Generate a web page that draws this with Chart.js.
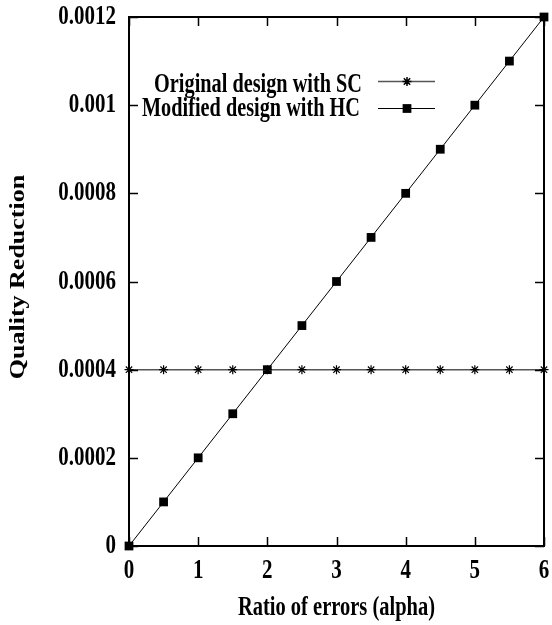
<!DOCTYPE html>
<html>
<head>
<meta charset="utf-8">
<script src="https://cdn.jsdelivr.net/npm/chart.js@4"></script>
<style>
  html, body { margin: 0; padding: 0; background: #fff; }
  #wrap { width: 552px; height: 625px; }
</style>
</head>
<body>
<div id="wrap"><canvas id="chart" width="552" height="625"></canvas></div>
<script>
// data
const alphaValues = [0, 0.5, 1, 1.5, 2, 2.5, 3, 3.5, 4, 4.5, 5, 5.5, 6];
const originalSC = [0.0004, 0.0004, 0.0004, 0.0004, 0.0004, 0.0004, 0.0004, 0.0004, 0.0004, 0.0004, 0.0004, 0.0004, 0.0004];
const modifiedHC = [0, 0.0001, 0.0002, 0.0003, 0.0004, 0.0005, 0.0006, 0.0007, 0.0008, 0.0009, 0.001, 0.0011, 0.0012];
const seriesLabels = ['Original design with SC', 'Modified design with HC'];
const xTitle = 'Ratio of errors (alpha)';
const yTitle = 'Quality Reduction';

const FONT = '"Liberation Serif", "Times New Roman", serif';
// the original figure text is stretched vertically
const STRETCH = 1.3;

function yTickText(v) {
    return v === 0 ? '0' : parseFloat(v.toFixed(4)).toString();
}

// draws text squeezed the way the picture shows it
function tallText(ctx, text, x, y, size, align, rotate) {
    ctx.save();
    ctx.translate(x, y);
    if (rotate) {
        ctx.rotate(-Math.PI / 2);
        ctx.scale(STRETCH, 1);
    } else {
        ctx.scale(1, STRETCH);
    }
    ctx.font = 'bold ' + size + 'px ' + FONT;
    ctx.textAlign = align;
    ctx.textBaseline = 'middle';
    ctx.fillStyle = '#000';
    ctx.fillText(text, 0, 0);
    ctx.restore();
}

// gnuplot style: ticks pointing inward, mirrored on top/right, labels and key
const gnuplotFrame = {
    id: 'gnuplotFrame',
    afterDatasetsDraw(chart) {
        const ctx = chart.ctx;
        const area = chart.chartArea;
        const xs = chart.scales.x, ys = chart.scales.y;
        ctx.save();
        ctx.strokeStyle = '#000';
        ctx.lineWidth = 1.5;
        ctx.beginPath();
        xs.ticks.forEach(t => {
            const px = Math.round(xs.getPixelForValue(t.value)) + 0.5;
            ctx.moveTo(px, area.bottom); ctx.lineTo(px, area.bottom - 9);
            ctx.moveTo(px, area.top); ctx.lineTo(px, area.top + 9);
        });
        ys.ticks.forEach(t => {
            const py = Math.round(ys.getPixelForValue(t.value)) + 0.5;
            ctx.moveTo(area.left, py); ctx.lineTo(area.left + 9, py);
            ctx.moveTo(area.right, py); ctx.lineTo(area.right - 9, py);
        });
        ctx.stroke();
        ctx.lineWidth = 2;
        ctx.strokeRect(area.left, area.top, area.right - area.left, area.bottom - area.top);

        // tick labels
        xs.ticks.forEach(t => {
            tallText(ctx, String(t.value), xs.getPixelForValue(t.value), area.bottom + 25, 21, 'center');
        });
        ys.ticks.forEach(t => {
            tallText(ctx, yTickText(t.value), area.left - 13, ys.getPixelForValue(t.value), 21, 'right');
        });

        // axis titles
        tallText(ctx, xTitle, (area.left + area.right) / 2, 608, 20.5, 'center');
        tallText(ctx, yTitle, 19, 277, 20, 'center', true);

        // key
        const rows = [{ text: 85, line: 81, right: 362 }, { text: 109.5, line: 108, right: 360 }];
        chart.data.datasets.forEach((ds, i) => {
            const r = rows[i];
            tallText(ctx, ds.label, r.right, r.text, 20.3, 'right');
            ctx.strokeStyle = ds.borderColor;
            ctx.lineWidth = ds.borderWidth;
            ctx.beginPath();
            ctx.moveTo(378, r.line + 0.5); ctx.lineTo(435, r.line + 0.5);
            ctx.stroke();
            ctx.fillStyle = '#000';
            ctx.strokeStyle = '#000';
            Chart.helpers.drawPoint(ctx, {
                pointStyle: ds.pointStyle,
                radius: ds.pointRadius,
                borderWidth: ds.pointBorderWidth,
                rotation: 0
            }, 407, r.line + 0.5);
        });
        ctx.restore();
    }
};

new Chart(document.getElementById('chart').getContext('2d'), {
    type: 'line',
    data: {
        labels: alphaValues,
        datasets: [
            {
                label: seriesLabels[0],
                data: alphaValues.map((a, i) => ({ x: a, y: originalSC[i] })),
                borderColor: '#555',
                borderWidth: 1.5,
                pointStyle: 'star',
                pointRadius: 4.5,
                pointBorderWidth: 1.2,
                pointBorderColor: '#000',
                pointBackgroundColor: '#000',
                tension: 0
            },
            {
                label: seriesLabels[1],
                data: alphaValues.map((a, i) => ({ x: a, y: modifiedHC[i] })),
                borderColor: '#000',
                borderWidth: 1,
                pointStyle: 'rect',
                pointRadius: 6.2,
                pointBorderWidth: 0,
                pointBorderColor: '#000',
                pointBackgroundColor: '#000',
                tension: 0
            }
        ]
    },
    options: {
        responsive: false,
        animation: false,
        clip: false,
        layout: { padding: { top: 17, right: 8, left: 0, bottom: 0 } },
        plugins: {
            legend: { display: false },
            tooltip: { enabled: false }
        },
        scales: {
            x: {
                type: 'linear',
                min: 0,
                max: 6,
                grid: { display: false, drawTicks: false },
                border: { display: false },
                ticks: { display: false, stepSize: 1 },
                afterFit(scale) { scale.height = 79; }
            },
            y: {
                type: 'linear',
                min: 0,
                max: 0.0012,
                grid: { display: false, drawTicks: false },
                border: { display: false },
                ticks: { display: false, stepSize: 0.0002 },
                afterFit(scale) { scale.width = 129; }
            }
        }
    },
    plugins: [gnuplotFrame]
});
</script>
</body>
</html>
